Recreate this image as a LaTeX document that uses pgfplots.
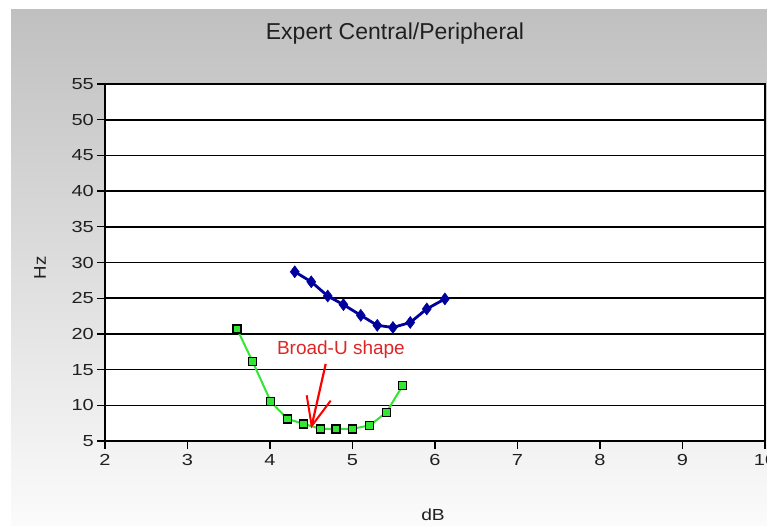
\documentclass[border=0pt]{standalone}
\usepackage{fontspec}
\setmainfont{Liberation Sans}
\usepackage{pgfplots}
\pgfplotsset{compat=1.18}
\definecolor{bgtop}{HTML}{C0C0C0}
\definecolor{bgbot}{HTML}{FBFBFB}
\definecolor{navy}{HTML}{00009C}
\definecolor{lgreen}{HTML}{33E633}
\definecolor{txt}{HTML}{202020}
\begin{document}
\begin{tikzpicture}[x=1pt,y=1pt]
\useasboundingbox (0,0) rectangle (767,525);
\fill[white] (0,0) rectangle (767,525);
\shade[top color=bgtop, bottom color=bgbot] (11,0) rectangle (767,515);
\node[font=\fontsize{23}{26}\selectfont, text=txt] at (395,491) {Expert Central/Peripheral};
\node[font=\fontsize{17}{20}\selectfont, text=txt, rotate=90, xscale=1.1] at (40,257) {Hz};
\node[font=\fontsize{16}{19}\selectfont, text=txt, xscale=1.2] at (433,10) {dB};
\begin{axis}[
  at={(105pt,84pt)}, anchor=south west,
  scale only axis, width=660pt, height=357pt,
  xmin=2, xmax=10, ymin=5, ymax=55,
  xtick={2,3,...,10}, ytick={5,10,...,55},
  axis background/.style={fill=white},
  ymajorgrids, major grid style={black, line width=1.6pt},
  axis line style={black, line width=1.6pt},
  tick style={black, line width=1.3pt},
  tick align=outside, major tick length=8pt,
  xtick pos=bottom, ytick pos=left,
  /pgf/number format/assume math mode=true,
  ticklabel style={font=\fontsize{16}{18}\selectfont, text=txt, xscale=1.25},
  yticklabel style={xshift=1pt},
  xticklabel style={yshift=-2pt},
  clip=false,
]
\addplot[navy, line width=2.8pt, mark=diamond*, mark size=6pt, mark options={fill=navy, draw=navy, line width=0.5pt}] coordinates {
(4.30,28.7) (4.50,27.3) (4.70,25.3) (4.89,24.1) (5.10,22.6) (5.30,21.2) (5.49,20.9) (5.70,21.6) (5.90,23.5) (6.12,24.9)
};
\addplot[lgreen, line width=2pt, mark=square*, mark size=4pt, mark options={fill=lgreen, draw=black, line width=1.3pt}] coordinates {
(3.60,20.7) (3.79,16.1) (4.01,10.5) (4.21,8.1) (4.41,7.4) (4.61,6.7) (4.80,6.7) (5.00,6.7) (5.21,7.2) (5.41,9.0) (5.61,12.8)
};
\node[font=\fontsize{19}{22}\selectfont, text=red!85!black, opacity=0.85] at (axis cs:4.86,17.75) {Broad-U shape};
\draw[red, line width=2.2pt] (axis cs:4.675,15.8) -- (axis cs:4.505,7.1);
\draw[red, line width=2pt] (axis cs:4.445,11.4) -- (axis cs:4.505,7.1) -- (axis cs:4.735,10.65);
\end{axis}
\end{tikzpicture}
\end{document}
